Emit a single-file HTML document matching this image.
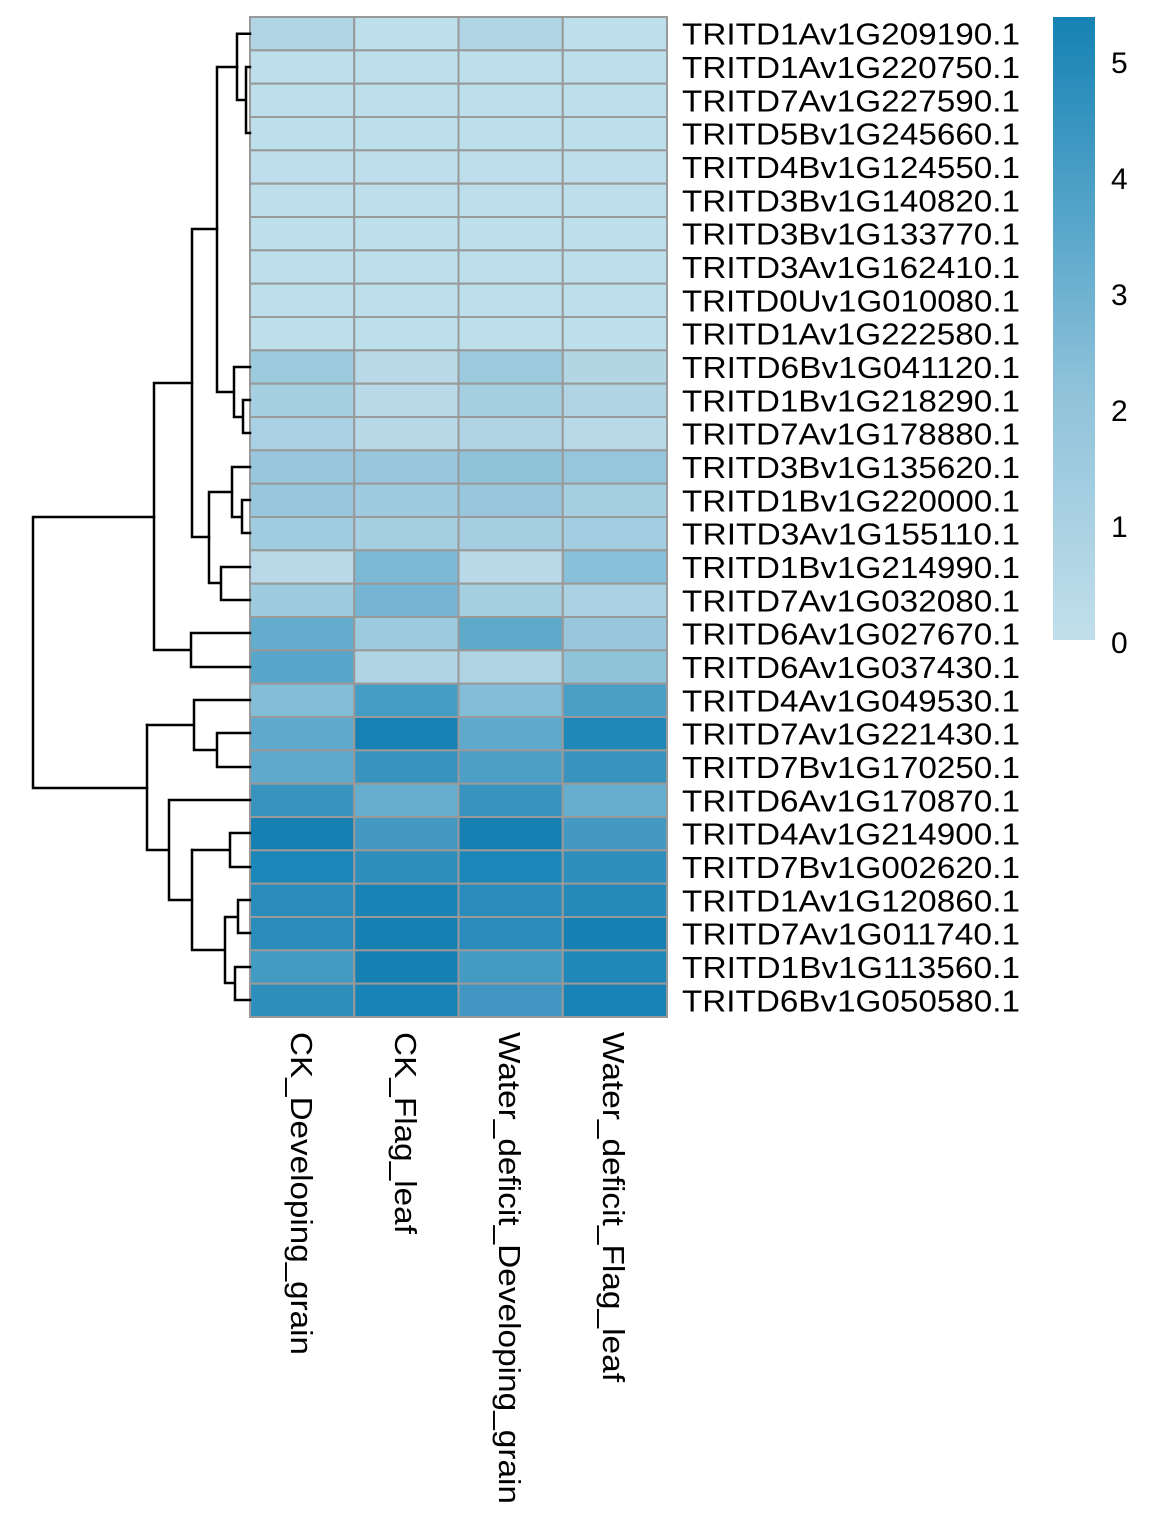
<!DOCTYPE html>
<html><head><meta charset="utf-8"><style>html,body{margin:0;padding:0;background:#fff}svg{display:block}</style></head>
<body>
<svg xmlns="http://www.w3.org/2000/svg" width="1172" height="1531" viewBox="0 0 1172 1531" font-family="Liberation Sans, sans-serif">
<defs><linearGradient id="cb" x1="0" y1="1" x2="0" y2="0">
<stop offset="0" stop-color="#c1dfeb"/><stop offset="0.4" stop-color="#8fc2da"/><stop offset="0.65" stop-color="#5ba8cb"/><stop offset="1" stop-color="#1682b4"/></linearGradient></defs>
<g id="cells" stroke="#999" stroke-width="2"></g>
<g id="labels" font-size="30.5" fill="#000"></g>
<g stroke="#000" stroke-width="2.5" fill="none" stroke-linecap="square">
<path d="M250,33.7H237V100H246M246,67H250M246,67V133H250"/>
<path d="M237,67H217V392H234M234,367H250M234,367V417H243M243,400H250M243,400V433H250"/>
<path d="M217,229H192V537H209M232,467H250M232,467V517H242M242,500H250M242,500V533H250"/>
<path d="M209,492H232M209,492V583H221M221,567H250M221,567V600H250"/>
<path d="M192,383H154V650H191M191,633H250M191,633V667H250"/>
<path d="M154,517H33V788H147"/>
<path d="M147,725H194M194,700H250M194,700V750H217M217,733H250M217,733V767H250"/>
<path d="M147,725V850H169M169,800H250M169,800V900H192M192,850H230M230,833H250M230,833V867H250"/>
<path d="M192,850V950H225M225,917H238M238,900H250M238,900V933H250M225,917V983H235M235,967H250M235,967V1000H250"/>
</g>
<rect x="1053" y="17" width="42" height="623" fill="url(#cb)"/>
<g font-size="30" fill="#000">
<text x="1111" y="73">5</text><text x="1111" y="189">4</text><text x="1111" y="305">3</text><text x="1111" y="421">2</text><text x="1111" y="537">1</text><text x="1111" y="653">0</text>
</g>
<g font-size="30.5" fill="#000">
<text transform="translate(291,1032) rotate(90)" textLength="323" lengthAdjust="spacingAndGlyphs">CK_Developing_grain</text>
<text transform="translate(395,1032) rotate(90)" textLength="202" lengthAdjust="spacingAndGlyphs">CK_Flag_leaf</text>
<text transform="translate(499,1032) rotate(90)" textLength="472" lengthAdjust="spacingAndGlyphs">Water_deficit_Developing_grain</text>
<text transform="translate(603,1032) rotate(90)" textLength="350" lengthAdjust="spacingAndGlyphs">Water_deficit_Flag_leaf</text>
</g>
<script>
var L="#bddeeb";
var rows=[
["#b0d5e5",L,"#b0d5e5",L],[L,L,L,L],[L,L,L,L],[L,L,L,L],[L,L,L,L],[L,L,L,L],[L,L,L,L],[L,L,L,L],[L,L,L,L],[L,L,L,L],
["#9ccade","#b8d9e7","#9ccade","#b3d6e5"],["#a7cfe2","#b8d9e7","#a7cfe2","#b0d4e4"],["#a9d1e3","#b7d9e7","#b0d4e4","#b8d9e7"],
["#98c7dd","#98c7dd","#8fc3da","#96c6dc"],["#98c7dd","#9ecbe0","#98c7dd","#a7cfe2"],["#a0cce0","#a5cee1","#a5cee1","#a3cde0"],
["#b8d9e7","#7bb9d5","#b8d9e7","#89c0d9"],["#9ecbe0","#75b4d2","#a7cfe2","#abd2e3"],["#63accd","#9ccade","#5ca9ca","#98c7dd"],
["#57a5c9","#b0d4e4","#b0d4e4","#8fc3da"],["#84bdd7","#439dc5","#84bdd7","#4a9fc6"],["#5ea9cc","#1681b4","#5ea9cc","#2088b9"],
["#5ea9cc","#3894bf","#4d9fc8","#3894bf"],["#3894bf","#66aecd","#3894bf","#66aecd"],["#1780b3","#4499c3","#1780b3","#4499c3"],
["#1b86b8","#2e8fbd","#1b86b8","#2e8fbd"],["#2a8cbb","#1983b6","#2a8cbb","#258ab9"],["#2a8cbb","#1780b3","#2a8cbb","#1780b3"],
["#439ac3","#1780b3","#439ac3","#1f88b9"],["#2e8fbd","#1983b6","#4196c2","#1a83b5"]];
var names=["TRITD1Av1G209190.1","TRITD1Av1G220750.1","TRITD7Av1G227590.1","TRITD5Bv1G245660.1","TRITD4Bv1G124550.1","TRITD3Bv1G140820.1","TRITD3Bv1G133770.1","TRITD3Av1G162410.1","TRITD0Uv1G010080.1","TRITD1Av1G222580.1","TRITD6Bv1G041120.1","TRITD1Bv1G218290.1","TRITD7Av1G178880.1","TRITD3Bv1G135620.1","TRITD1Bv1G220000.1","TRITD3Av1G155110.1","TRITD1Bv1G214990.1","TRITD7Av1G032080.1","TRITD6Av1G027670.1","TRITD6Av1G037430.1","TRITD4Av1G049530.1","TRITD7Av1G221430.1","TRITD7Bv1G170250.1","TRITD6Av1G170870.1","TRITD4Av1G214900.1","TRITD7Bv1G002620.1","TRITD1Av1G120860.1","TRITD7Av1G011740.1","TRITD1Bv1G113560.1","TRITD6Bv1G050580.1"];
var NS="http://www.w3.org/2000/svg",xs=[250,354.25,458.5,562.75,667],h=1000/30;
var g=document.getElementById("cells"),lg=document.getElementById("labels");
for(var r=0;r<30;r++){for(var c=0;c<4;c++){var e=document.createElementNS(NS,"rect");
e.setAttribute("x",xs[c]);e.setAttribute("y",17+r*h);e.setAttribute("width",xs[c+1]-xs[c]);e.setAttribute("height",h);e.setAttribute("fill",rows[r][c]);g.appendChild(e);}
var t=document.createElementNS(NS,"text");t.setAttribute("x",682);t.setAttribute("y",17+r*h+h/2+11);
t.setAttribute("textLength",338);t.setAttribute("lengthAdjust","spacingAndGlyphs");t.textContent=names[r];lg.appendChild(t);}
</script>
</svg>
</body></html>
